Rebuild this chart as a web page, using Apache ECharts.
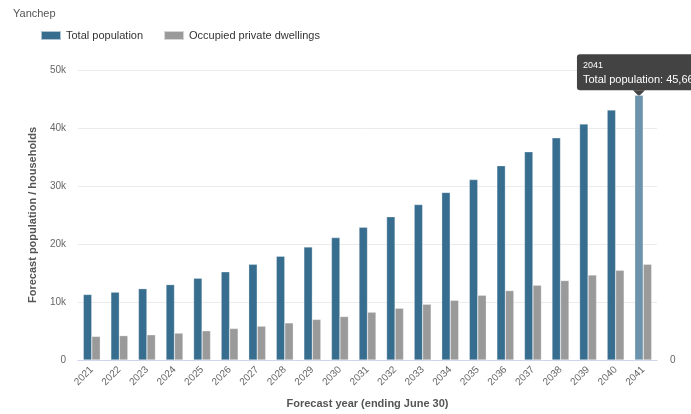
<!DOCTYPE html>
<html>
<head>
<meta charset="utf-8">
<script src="https://cdn.jsdelivr.net/npm/echarts@6/dist/echarts.min.js"></script>
<style>
  html, body { margin: 0; padding: 0; background: #fff; }
  #chart { width: 691px; height: 414px; }
</style>
</head>
<body>
<div id="chart"></div>
<script>
// Yanchep population & dwelling forecast
const years = ['2021','2022','2023','2024','2025','2026','2027','2028','2029','2030','2031',
               '2032','2033','2034','2035','2036','2037','2038','2039','2040','2041'];
const totalPopulation = [11300, 11700, 12300, 13000, 14100, 15200, 16500, 17900, 19500, 21100, 22900,
                         24700, 26800, 28900, 31100, 33500, 35900, 38300, 40700, 43100, 45663];
const dwellings = [4070, 4200, 4350, 4640, 5040, 5440, 5840, 6400, 7000, 7500, 8250,
                   8930, 9620, 10300, 11170, 11970, 12900, 13700, 14660, 15460, 16500];
const yTicks = [0, 10000, 20000, 30000, 40000, 50000];
const highlightIndex = 20;

const FONT = '"Liberation Sans", Arial, Helvetica, sans-serif';
const BLUE = '#376d8e';
const BLUE_HOVER = '#6c93ab';
const GREY = '#9a9a9a';

const chart = echarts.init(document.getElementById('chart'), null, { renderer: 'canvas' });

const popData = totalPopulation.map((v, i) =>
  i === highlightIndex ? { value: v, itemStyle: { color: BLUE_HOVER } } : v);

chart.setOption({
  animation: false,
  textStyle: { fontFamily: FONT },
  title: {
    text: 'Yanchep',
    left: 8, top: 3,
    textStyle: { fontFamily: FONT, fontSize: 11, fontWeight: 'normal', color: '#555' }
  },
  legend: {
    left: 35, top: 25,
    itemWidth: 20, itemHeight: 9, itemGap: 20,
    icon: 'rect',
    textStyle: { fontFamily: FONT, fontSize: 11, color: '#333' },
    data: ['Total population', 'Occupied private dwellings']
  },
  grid: { left: 78, right: 34, top: 70, bottom: 53 },
  xAxis: {
    type: 'category',
    data: years,
    name: 'Forecast year (ending June 30)',
    nameLocation: 'middle',
    nameGap: 38,
    nameTextStyle: { fontFamily: FONT, fontSize: 11, fontWeight: 'bold', color: '#555' },
    axisLine: { lineStyle: { color: '#ccd6eb' } },
    axisTick: { alignWithLabel: true, length: 6, lineStyle: { color: '#ccd6eb' } },
    axisLabel: { rotate: 45, fontSize: 10, color: '#666', margin: 8, fontFamily: FONT }
  },
  yAxis: [{
    type: 'value',
    min: 0, max: 50000, interval: 10000,
    name: 'Forecast population / households',
    nameLocation: 'middle',
    nameGap: 40,
    nameTextStyle: { fontFamily: FONT, fontSize: 11, fontWeight: 'bold', color: '#555' },
    axisLine: { show: false },
    axisTick: { show: false },
    axisLabel: {
      fontSize: 10, color: '#666', margin: 12, fontFamily: FONT,
      formatter: v => yTicks.includes(v) ? (v === 0 ? '0' : (v / 1000) + 'k') : ''
    },
    splitLine: { lineStyle: { color: '#ebebeb' } }
  }, {
    type: 'value',
    position: 'right',
    min: 0, max: 1, interval: 1,
    axisLine: { show: false },
    axisTick: { show: false },
    splitLine: { show: false },
    axisLabel: {
      fontSize: 10, color: '#666', margin: 13, fontFamily: FONT,
      formatter: v => v === 0 ? '0' : ''
    }
  }],
  series: [{
    name: 'Total population',
    type: 'bar',
    data: popData,
    barWidth: 8.5,
    barGap: '0%',
    itemStyle: { color: BLUE, borderColor: 'rgba(255,255,255,0.6)', borderWidth: 0.5 }
  }, {
    name: 'Occupied private dwellings',
    type: 'bar',
    data: dwellings,
    barWidth: 8.5,
    barGap: '0%',
    itemStyle: { color: GREY, borderColor: 'rgba(255,255,255,0.6)', borderWidth: 0.5 }
  }]
});

// Pinned tooltip for the highlighted 2041 population bar
const layout = chart.getModel().getSeriesByIndex(0).getData().getItemLayout(highlightIndex);
const tipX = layout.x + layout.width / 2;
const barTop = Math.min(layout.y, layout.y + layout.height);
const boxH = 36, boxLeft = tipX - 62, boxTop = barTop - boxH - 5;
chart.setOption({
  graphic: [{
    type: 'group',
    z: 100,
    children: [{
      type: 'rect',
      shape: { x: boxLeft, y: boxTop, width: 160, height: boxH, r: 3 },
      style: { fill: 'rgba(51,51,51,0.92)' }
    }, {
      type: 'polygon',
      shape: { points: [[tipX - 6, boxTop + boxH], [tipX + 6, boxTop + boxH], [tipX, boxTop + boxH + 6]] },
      style: { fill: 'rgba(51,51,51,0.92)' }
    }, {
      type: 'text',
      style: {
        x: boxLeft + 6, y: boxTop + 7,
        text: years[highlightIndex],
        fill: '#fff', font: '9px ' + FONT
      }
    }, {
      type: 'text',
      style: {
        x: boxLeft + 6, y: boxTop + 20,
        text: 'Total population: ' + totalPopulation[highlightIndex].toLocaleString('en-US'),
        fill: '#fff', font: '11px ' + FONT
      }
    }]
  }]
});
</script>
</body>
</html>
